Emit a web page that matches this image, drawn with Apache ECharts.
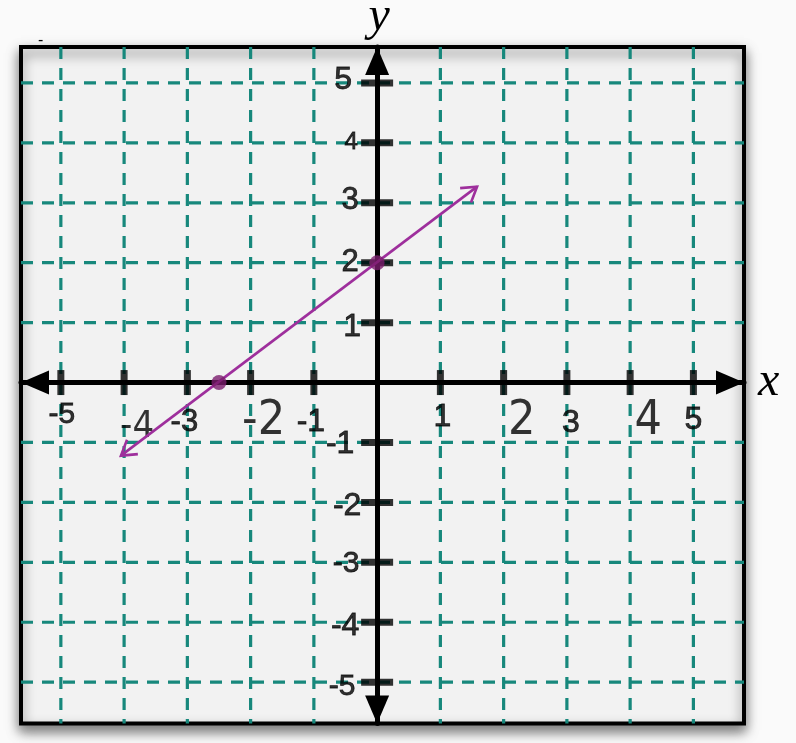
<!DOCTYPE html>
<html><head><meta charset="utf-8">
<script src="https://cdn.jsdelivr.net/npm/echarts@6/dist/echarts.min.js"></script>
<style>html,body{margin:0;padding:0;background:#fafafa;}#chart{width:796px;height:743px;}</style>
</head><body><div id="chart"></div>
<script>
// ---- data ----
const xExtent = [-5.63, 5.80];
const yExtent = [-5.69, 5.60];
const gridValues = [-5, -4, -3, -2, -1, 1, 2, 3, 4, 5];
const xTickValues = [-5, -4, -3, -2, -1, 1, 2, 3, 4, 5];
const xTickLabels = ['-5', '-4', '-3', '-2', '-1', '1', '2', '3', '4', '5'];
const yTickValues = [5, 4, 3, 2, 1, -1, -2, -3, -4, -5];
const yTickLabels = ['5', '4', '3', '2', '1', '-1', '-2', '-3', '-4', '-5'];
const lineStart = [-4.05, -1.22];   // lower arrow tip
const lineEnd = [1.58, 3.27];       // upper arrow tip
const markedX = [-2.5, 0];
const markedY = [0, 2];

// ---- label styles (offset dx, dy, font size, narrow font) ----
const xLabelStyle = [
  [1, 32, 30, false], [13, 45, 38, true], [-3, 40, 31, false], [13, 39, 48, true], [-3, 40, 32, false],
  [2, 35, 32, false], [18, 39, 48, true], [4, 41, 32, false], [18, 39, 48, true], [0, 38, 32, false]
];
const yLabelStyle = [
  [-34, -3, 32], [-26, 0, 24], [-27, -2, 31], [-27, 0, 31], [-25, 5, 32],
  [-37, 2, 32], [-30, 4, 32], [-31, 1, 30], [-32, 4, 32], [-35, 5, 30]
];

const SANS = 'Liberation Sans, Arial, sans-serif';
const NARROW = 'Liberation Sans Narrow, Arial Narrow, DejaVu Sans Condensed, Liberation Sans, sans-serif';
const SERIF = 'Liberation Serif, DejaVu Serif, serif';

const chart = echarts.init(document.getElementById('chart'), null, {renderer: 'canvas'});

const xLabelData = xTickValues.map((v, i) => ({
  value: [v, 0],
  label: {
    show: true, formatter: xTickLabels[i], position: 'inside',
    offset: [xLabelStyle[i][0], xLabelStyle[i][1]],
    fontSize: xLabelStyle[i][2], fontFamily: xLabelStyle[i][3] ? NARROW : SANS,
    color: '#000', align: 'center', verticalAlign: 'middle',
    textBorderColor: '#000', textBorderWidth: xLabelStyle[i][3] ? 0 : 0.8
  }
}));
const yLabelData = yTickValues.map((v, i) => ({
  value: [0, v],
  label: {
    show: true, formatter: yTickLabels[i], position: 'inside',
    offset: [yLabelStyle[i][0], yLabelStyle[i][1]],
    fontSize: yLabelStyle[i][2], fontFamily: SANS,
    color: '#000', align: 'center', verticalAlign: 'middle',
    textBorderColor: '#000', textBorderWidth: 0.8
  }
}));

const gridStyle = {stroke: '#17887c', lineWidth: 3.2, lineDash: [12, 9]};

function arrowHead(tip, from) {
  const dx = from[0] - tip[0], dy = from[1] - tip[1];
  const len = Math.sqrt(dx * dx + dy * dy);
  const ux = dx / len, uy = dy / len;
  const L = 17, a = 32 * Math.PI / 180;
  const r1 = [tip[0] + L * (ux * Math.cos(a) - uy * Math.sin(a)), tip[1] + L * (ux * Math.sin(a) + uy * Math.cos(a))];
  const r2 = [tip[0] + L * (ux * Math.cos(-a) - uy * Math.sin(-a)), tip[1] + L * (ux * Math.sin(-a) + uy * Math.cos(-a))];
  return {type: 'polyline', shape: {points: [r1, tip, r2]}, style: {stroke: '#9e2f9c', lineWidth: 2.6, fill: null, lineJoin: 'miter'}};
}

const option = {
  backgroundColor: '#fafafa',
  animation: false,
  title: {text: '-', left: 38, top: 33, padding: 0, textStyle: {fontSize: 16, fontWeight: 'normal', color: '#000', fontFamily: SANS}},
  grid: {
    left: 21, right: 52, top: 47, bottom: 19.5, show: true,
    outerBoundsMode: 'none', containLabel: false,
    backgroundColor: '#f2f2f2', borderColor: '#000', borderWidth: 4,
    shadowBlur: 12, shadowColor: 'rgba(0,0,0,0.5)', shadowOffsetY: 6
  },
  xAxis: {
    type: 'value', min: xExtent[0], max: xExtent[1], z: 10,
    axisLine: {show: true, onZero: true, lineStyle: {color: '#000', width: 5},
      symbol: ['triangle', 'triangle'], symbolSize: [24, 28], symbolOffset: [14, -14]},
    axisTick: {show: false}, axisLabel: {show: false}, splitLine: {show: false},
    name: 'x', nameLocation: 'end', nameGap: 14,
    nameTextStyle: {fontFamily: SERIF, fontStyle: 'italic', fontSize: 48, color: '#000', padding: [0, 0, 30, 0]}
  },
  yAxis: {
    type: 'value', min: yExtent[0], max: yExtent[1], z: 10,
    axisLine: {show: true, onZero: true, lineStyle: {color: '#000', width: 5},
      symbol: ['triangle', 'triangle'], symbolSize: [24, 28], symbolOffset: [14, -14]},
    axisTick: {show: false}, axisLabel: {show: false}, splitLine: {show: false},
    name: 'y', nameLocation: 'end', nameGap: 6,
    nameTextStyle: {fontFamily: SERIF, fontStyle: 'italic', fontSize: 48, color: '#000', padding: [0, 0, 0, 4]}
  },
  series: [
    {
      type: 'custom', z: 2, silent: true,
      data: gridValues.map(v => [v, v]),
      renderItem(params, api) {
        const v = api.value(0);
        const top = api.coord([v, yExtent[1]]), bot = api.coord([v, yExtent[0]]);
        const left = api.coord([xExtent[0], v]), right = api.coord([xExtent[1], v]);
        return {type: 'group', children: [
          {type: 'line', shape: {x1: top[0], y1: top[1], x2: bot[0], y2: bot[1]}, style: gridStyle},
          {type: 'line', shape: {x1: left[0], y1: left[1], x2: right[0], y2: right[1]}, style: gridStyle}
        ]};
      }
    },
    {
      type: 'scatter', z: 11, silent: true, symbol: 'rect', symbolSize: [7, 25],
      itemStyle: {color: '#000'},
      data: xTickValues.map(v => [v, 0])
    },
    {
      type: 'scatter', z: 11, silent: true, symbol: 'rect', symbolSize: [32, 7],
      itemStyle: {color: '#000'},
      data: yTickValues.map(v => [0, v])
    },
    {
      type: 'scatter', z: 12, silent: true, symbolSize: 1, clip: false,
      itemStyle: {color: 'rgba(0,0,0,0)'},
      data: xLabelData.concat(yLabelData)
    },
    {
      type: 'custom', z: 15, silent: true,
      data: [[lineStart[0], lineStart[1], lineEnd[0], lineEnd[1]]],
      encode: {x: [0, 2], y: [1, 3]},
      renderItem(params, api) {
        const a = api.coord([api.value(0), api.value(1)]);
        const b = api.coord([api.value(2), api.value(3)]);
        return {type: 'group', children: [
          {type: 'line', shape: {x1: a[0], y1: a[1], x2: b[0], y2: b[1]}, style: {stroke: '#9e2f9c', lineWidth: 2.6}},
          arrowHead(a, b), arrowHead(b, a)
        ]};
      }
    },
    {
      type: 'scatter', z: 20, silent: true, symbolSize: 15,
      itemStyle: {color: '#7b1d6d'},
      data: markedX.map((x, i) => [x, markedY[i]])
    }
  ]
};
chart.setOption(option);
</script></body></html>
